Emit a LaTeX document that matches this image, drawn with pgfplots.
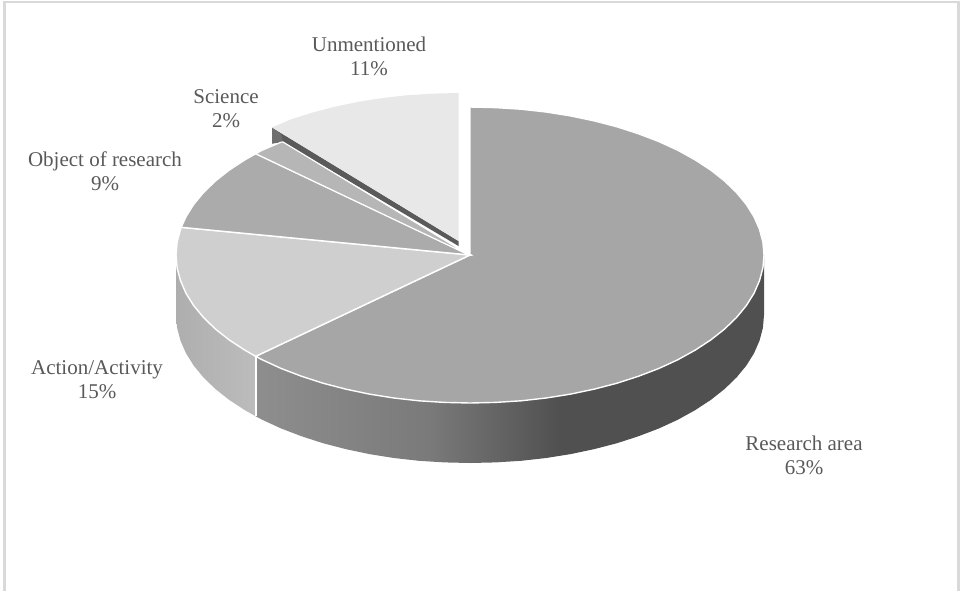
\documentclass[border=0pt]{standalone}
\usepackage{pgfplots}
\pgfplotsset{compat=1.18}
\usepackage{fontspec}
\setmainfont{Liberation Serif}
\definecolor{labelgray}{HTML}{595959}
\definecolor{framegray}{HTML}{D9D9D9}
\definecolor{researchtop}{HTML}{A6A6A6}
\definecolor{actiontop}{HTML}{CFCFCF}
\definecolor{objecttop}{HTML}{ABABAB}
\definecolor{sciencetop}{HTML}{B6B6B6}
\definecolor{unmentionedtop}{HTML}{E8E8E8}
\definecolor{cutdark}{HTML}{5A5A5A}
\definecolor{cutend}{HTML}{6E6E6E}
\definecolor{rA}{HTML}{8E8E8E}
\definecolor{rB}{HTML}{7A7A7A}
\definecolor{rC}{HTML}{505050}
\definecolor{aA}{HTML}{AEAEAE}
\definecolor{aB}{HTML}{BCBCBC}
% Rim shadings of the two front slices
\pgfdeclarehorizontalshading{researchrim}{100bp}{
  color(0bp)=(rA); color(25bp)=(rA); color(42bp)=(rB); color(55bp)=(rC); color(100bp)=(rC)}
\pgfdeclarehorizontalshading{actionrim}{100bp}{
  color(0bp)=(aA); color(25bp)=(aA); color(75bp)=(aB); color(100bp)=(aB)}
\begin{document}
\begin{tikzpicture}
\path[use as bounding box] (0,0) rectangle (960pt,590pt);
\begin{axis}[
  at={(0,0)}, anchor=south west,
  scale only axis, width=960pt, height=590pt,
  xmin=0, xmax=960, ymin=0, ymax=590, y dir=reverse,
  axis lines=none,
  clip=true,
  nodes={font=\fontsize{21}{24}\selectfont, text=labelgray, align=center},
]
% Outer frame of the chart area
\addplot[framegray, line width=2.8pt] coordinates {(4.5,592)(4.5,2)(958.5,2)(958.5,592)};

% Rim of the Research area slice
\addplot[draw=none, shading=researchrim] coordinates {
 (764,255)(764,315)(762.9,327.9)(759.5,340.7)(754,353.3)(746.3,365.6)(736.5,377.5)
 (724.6,389)(710.8,399.9)(695.2,410.1)(677.9,419.7)(659,428.4)(638.6,436.2)(617,443.2)
 (594.3,449.1)(570.6,454.1)(546.1,458)(521.1,460.8)(495.6,462.4)(470,463)(444.4,462.4)
 (418.9,460.8)(393.9,458)(369.4,454.1)(345.7,449.1)(323,443.2)(301.4,436.2)(281,428.4)
 (262.1,419.7)(255.7,416.3)(255.7,356.3)} -- cycle;
% Rim of the Action/Activity slice
\addplot[draw=none, shading=actionrim] coordinates {
 (255.7,416.3)(244.8,410.1)(229.2,399.9)(215.4,389)(203.5,377.5)(193.7,365.6)(186,353.3)
 (180.5,340.7)(177.1,327.9)(176,315)(176,255)(255.7,356.3)} -- cycle;
\addplot[white, line width=2pt] coordinates {(255.7,356.3)(255.7,416.3)};

% Top faces
\addplot[fill=researchtop, draw=white, line width=1.4pt] coordinates {
 (470,255)(470,107)(495.6,107.6)(521.1,109.2)(546.1,112)(570.6,115.9)(594.3,120.9)(617,126.8)
 (638.6,133.8)(659,141.6)(677.9,150.3)(695.2,159.9)(710.8,170.1)(724.6,181)(736.5,192.5)
 (746.3,204.4)(754,216.7)(759.5,229.3)(762.9,242.1)(764,255)(762.9,267.9)(759.5,280.7)
 (754,293.3)(746.3,305.6)(736.5,317.5)(724.6,329)(710.8,339.9)(695.2,350.1)(677.9,359.7)
 (659,368.4)(638.6,376.2)(617,383.2)(594.3,389.1)(570.6,394.1)(546.1,398)(521.1,400.8)
 (495.6,402.4)(470,403)(444.4,402.4)(418.9,400.8)(393.9,398)(369.4,394.1)(345.7,389.1)
 (323,383.2)(301.4,376.2)(281,368.4)(262.1,359.7)(255.7,356.3)} -- cycle;
\addplot[fill=actiontop, draw=white, line width=1.4pt] coordinates {
 (470,255)(255.7,356.3)(244.8,350.1)(229.2,339.9)(215.4,329)(203.5,317.5)(193.7,305.6)
 (186,293.3)(180.5,280.7)(177.1,267.9)(176,255)(177.1,242.1)(180.5,229.3)(181.2,227.3)} -- cycle;
\addplot[fill=objecttop, draw=white, line width=1.4pt] coordinates {
 (470,255)(181.2,227.3)(186,216.7)(193.7,204.4)(203.5,192.5)(215.4,181)(229.2,170.1)
 (244.8,159.9)(255.7,153.7)} -- cycle;

% Cut face of the pulled-out Unmentioned slice
\addplot[fill=cutdark, draw=none] coordinates {(272,127.5)(458.5,241)(458.5,246)(283,142)(272,143.5)} -- cycle;
\addplot[fill=cutend, draw=none] coordinates {(272,127.5)(281,134)(283,142)(272,143.5)} -- cycle;

\addplot[fill=sciencetop, draw=white, line width=1.2pt] coordinates {
 (470,255.5)(255.7,153.7)(262.1,150.3)(281,142.2)(283,142)} -- cycle;
\addplot[fill=unmentionedtop, draw=none] coordinates {
 (458.5,241)(272,127.5)(289.9,119.8)(311.5,112.8)(334.2,106.9)(357.9,101.9)(382.4,98)
 (407.4,95.2)(432.9,93.6)(458.5,93)} -- cycle;

% Slice labels
\node at (axis cs:369,56) {Unmentioned\\11\%};
\node at (axis cs:226,109) {Science\\2\%};
\node at (axis cs:105,171) {Object of research\\9\%};
\node at (axis cs:97,380) {Action/Activity\\15\%};
\node at (axis cs:804,455) {Research area\\63\%};
\end{axis}
\end{tikzpicture}
\end{document}
